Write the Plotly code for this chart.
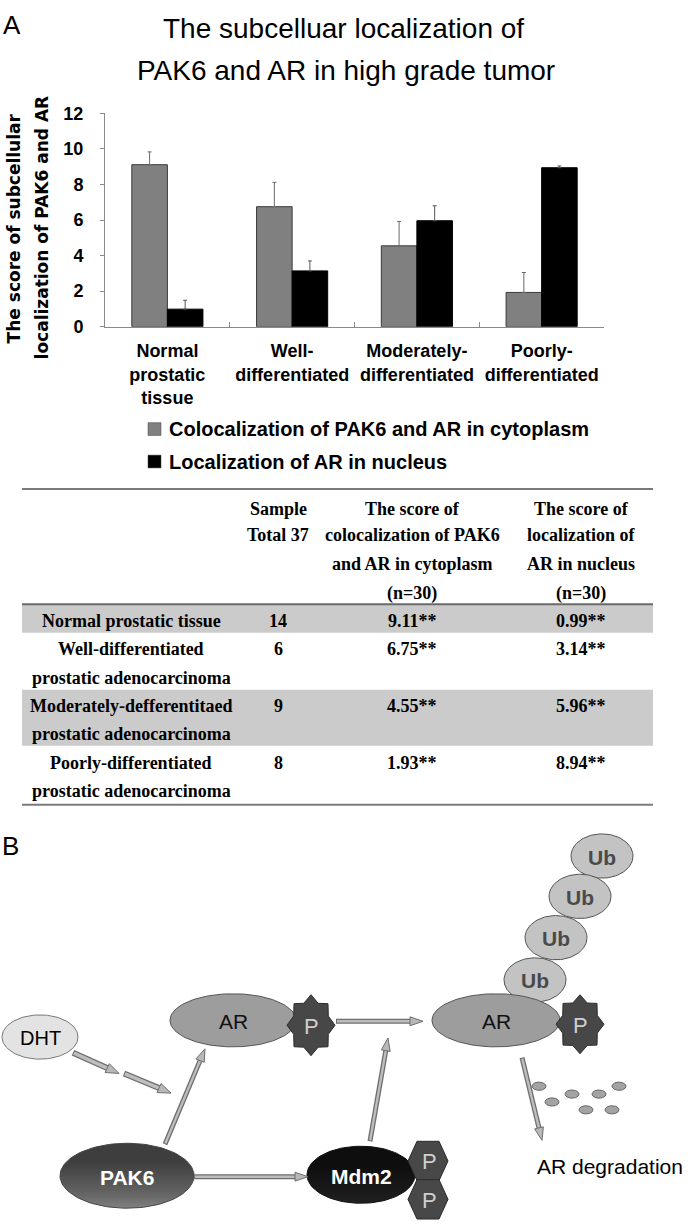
import numpy as np
import plotly.graph_objects as go

W, H = 693, 1230

# ---------------- data ----------------
categories = ["Normal<br>prostatic<br>tissue", "Well-<br>differentiated",
              "Moderately-<br>differentiated", "Poorly-<br>differentiated"]
cyto_scores = [9.11, 6.75, 4.55, 1.93]
nucleus_scores = [0.99, 3.14, 5.96, 8.94]
cyto_err = [0.72, 1.37, 1.37, 1.12]
nucleus_err = [0.50, 0.56, 0.84, 0.10]
y_ticks = [0, 2, 4, 6, 8, 10, 12]
series_names = ["Colocalization of PAK6 and AR in cytoplasm", "Localization of AR in nucleus"]

table_col_headers = [
    ["Sample", "Total 37"],
    ["The score of", "colocalization of PAK6", "and AR in cytoplasm", "(n=30)"],
    ["The score of", "localization of", "AR in nucleus", "(n=30)"],
]
table_groups = [["Normal prostatic tissue"],
                ["Well-differentiated", "prostatic adenocarcinoma"],
                ["Moderately-defferentitaed", "prostatic adenocarcinoma"],
                ["Poorly-differentiated", "prostatic adenocarcinoma"]]
table_samples = ["14", "6", "9", "8"]
table_cyto = ["9.11**", "6.75**", "4.55**", "1.93**"]
table_nucleus = ["0.99**", "3.14**", "5.96**", "8.94**"]

SANS = "Liberation Sans, Arial, sans-serif"
SERIF = "Liberation Serif, Times New Roman, serif"

fig = go.Figure()

# ---------------- bar chart ----------------
fig.add_trace(go.Bar(
    x=categories, y=cyto_scores, name=series_names[0],
    marker=dict(color="#808080", line=dict(color="#3a3a3a", width=1)),
    error_y=dict(type="data", symmetric=False, array=cyto_err, arrayminus=[0] * 4,
                 color="#6a6a6a", thickness=1, width=2),
    showlegend=False, hoverinfo="skip"))
fig.add_trace(go.Bar(
    x=categories, y=nucleus_scores, name=series_names[1],
    marker=dict(color="#000000", line=dict(color="#000000", width=1)),
    error_y=dict(type="data", symmetric=False, array=nucleus_err, arrayminus=[0] * 4,
                 color="#555555", thickness=1, width=2),
    showlegend=False, hoverinfo="skip"))

shapes = []
annotations = []


def px_shape(**kw):
    kw.setdefault("xref", "x2")
    kw.setdefault("yref", "y2")
    shapes.append(kw)


def text(x, y, s, size, color="#000", family=SANS, weight="normal", xanchor="center",
         yanchor="middle", angle=0):
    annotations.append(dict(x=x, y=y, xref="x2", yref="y2", text=s, showarrow=False,
                            xanchor=xanchor, yanchor=yanchor, textangle=angle,
                            font=dict(size=size, color=color, family=family, weight=weight)))


# titles
text(1, 15, "A", 26, xanchor="left")
text(343, 19, "The subcelluar localization of", 28)
text(346, 61, "PAK6 and AR in high grade tumor", 28)
# y-axis title (two lines)
text(14, 222, "The score of subcellular", 17, family="DejaVu Sans", weight="bold", angle=-90)
text(42, 221, "localization of PAK6 and AR", 17, family="DejaVu Sans", weight="bold", angle=-90)

# legend
leg_colors = ["#808080", "#000000"]
leg_y = [426, 459]
for name, col, yy in zip(series_names, leg_colors, leg_y):
    px_shape(type="rect", x0=148, x1=161, y0=yy - 6.5, y1=yy + 6.5,
             fillcolor=col, line=dict(color="#444", width=0.5))
    text(167, yy, name, 20, weight="bold", xanchor="left")

# ---------------- table ----------------
TL, TR = 22, 653
px_shape(type="rect", x0=TL, x1=TR, y0=604, y1=633, fillcolor="#cbcbcb", line=dict(width=0), layer="below")
px_shape(type="rect", x0=TL, x1=TR, y0=691, y1=748, fillcolor="#cbcbcb", line=dict(width=0), layer="below")
px_shape(type="line", x0=TL, x1=TR, y0=487, y1=487, line=dict(color="#7a7a7a", width=2))
px_shape(type="line", x0=TL, x1=TR, y0=604, y1=604, line=dict(color="#6a6a6a", width=2))
px_shape(type="line", x0=TL, x1=TR, y0=808, y1=808, line=dict(color="#7a7a7a", width=2))

col_x = [131, 278, 412, 581]
head_y = [507, 534, 563, 593]
for cx, lines in zip(col_x[1:], table_col_headers):
    for i, ln in enumerate(lines):
        text(cx, head_y[i], ln, 18, family=SERIF, weight="bold")

row_y = [621, 650, 707, 765]
for i in range(4):
    for j, ln in enumerate(table_groups[i]):
        text(col_x[0], row_y[i] + j * 29, ln, 18, family=SERIF, weight="bold")
    text(col_x[1], row_y[i], table_samples[i], 18, family=SERIF, weight="bold")
    text(col_x[2], row_y[i], table_cyto[i], 18, family=SERIF, weight="bold")
    text(col_x[3], row_y[i], table_nucleus[i], 18, family=SERIF, weight="bold")

# ---------------- diagram B ----------------
text(0, 850, "B", 26, xanchor="left")


def ellipse(cx, cy, rx, ry, fill, edge="#555", grad=None, width=1):
    t = np.linspace(0, 2 * np.pi, 120)
    tr = dict(x=cx + rx * np.cos(t), y=cy + ry * np.sin(t), xaxis="x2", yaxis="y2",
              mode="lines", fill="toself", fillcolor=fill, line=dict(color=edge, width=width),
              hoverinfo="skip", showlegend=False)
    if grad is not None:
        tr["fillgradient"] = dict(type="vertical", colorscale=grad, start=cy - ry, stop=cy + ry)
    fig.add_trace(go.Scatter(**tr))


def arrow(x0, y0, x1, y1, w=5, hl=13, hw=4.5):
    dx, dy = x1 - x0, y1 - y0
    L = np.hypot(dx, dy)
    ux, uy = dx / L, dy / L
    pxv, pyv = -uy, ux
    bx, by = x1 - ux * hl, y1 - uy * hl
    px_shape(type="line", x0=x0, y0=y0, x1=bx, y1=by, line=dict(color="#6e6e6e", width=w))
    px_shape(type="line", x0=x0 + ux, y0=y0 + uy, x1=bx, y1=by, line=dict(color="#bdbdbd", width=w - 2.6))
    path = (f"M{x1:.1f},{y1:.1f} L{bx + pxv * hw:.1f},{by + pyv * hw:.1f} "
            f"L{bx - pxv * hw:.1f},{by - pyv * hw:.1f} Z")
    px_shape(type="path", path=path, fillcolor="#b8b8b8", line=dict(color="#6e6e6e", width=1))


def star(cx, cy, rx, ry, inner=0.78):
    pts = []
    for k in range(16):
        a = -np.pi / 2 + k * np.pi / 8
        r = 1.0 if k % 2 == 0 else inner
        pts.append((cx + rx * r * np.cos(a), cy + ry * r * np.sin(a)))
    path = "M" + " L".join(f"{x:.1f},{y:.1f}" for x, y in pts) + " Z"
    px_shape(type="path", path=path, fillcolor="#474747", line=dict(color="#2e2e2e", width=1))
    text(cx, cy + 1, "P", 22, color="#cfcfcf")


def hexagon(cx, cy, hw=20, hh=20, tw=11):
    pts = [(-hw, 0), (-tw, -hh), (tw, -hh), (hw, 0), (tw, hh), (-tw, hh)]
    path = "M" + " L".join(f"{cx + x:.1f},{cy + y:.1f}" for x, y in pts) + " Z"
    px_shape(type="path", path=path, fillcolor="#484848", line=dict(color="#2a2a2a", width=1))
    text(cx + 1, cy + 1, "P", 22, color="#cfcfcf")


# ubiquitin chain
ub_centers = [(602, 860), (580, 901), (556, 943), (535, 986)]
for (ux_, uy_) in ub_centers:
    ellipse(ux_, uy_, 31, 22.5, "#c3c3c3", edge="#555")

# nodes
ellipse(40, 1044, 38, 22.5, "#e3e3e3", edge="#777")
ellipse(233, 1027, 63, 27, "#9d9d9d", edge="#555")
ellipse(496, 1027, 64, 27, "#9d9d9d", edge="#555")
ellipse(127, 1185, 67, 33, "#777", edge="#444",
        grad=[[0, "#3e3e3e"], [0.5, "#666666"], [1, "#a8a8a8"]])
ellipse(361, 1184, 54, 29, "#1c1c1c", edge="#111",
        grad=[[0, "#0e0e0e"], [0.6, "#1e1e1e"], [1, "#3a3a3a"]])

# degradation fragments
frag = [(539, 1094), (552, 1110), (572, 1102), (599, 1102), (619, 1094), (586, 1118), (612, 1118)]
for fx, fy in frag:
    ellipse(fx, fy, 7, 4.2, "#a3a3a3", edge="#666")

# arrows
arrow(73, 1060, 119, 1081, w=6, hl=13, hw=5)
arrow(124, 1081, 171, 1101, w=6, hl=13, hw=5)
arrow(165, 1153, 205, 1056)
arrow(370, 1150, 388, 1045)
arrow(336, 1028, 423, 1028)
arrow(194, 1186, 308, 1186)
arrow(522, 1065, 542, 1149)

# phosphate groups
star(311, 1032, 24, 31)
star(580, 1031, 24, 30)
hexagon(428, 1170)
hexagon(428, 1209)

# labels
for (ux_, uy_) in ub_centers:
    text(ux_, uy_ + 1, "Ub", 21, color="#4a4a4a", weight="bold")
text(40, 1045, "DHT", 20)
text(233, 1028, "AR", 21, color="#111")
text(496, 1028, "AR", 21, color="#111")
text(127, 1187, "PAK6", 21, color="#ffffff", weight="bold")
text(361, 1186, "Mdm2", 21, color="#ffffff", weight="bold")
text(535, 1176, "AR degradation", 21, xanchor="left")

# ---------------- layout ----------------
fig.update_layout(
    width=W, height=H, margin=dict(l=0, r=0, t=0, b=0),
    paper_bgcolor="white", plot_bgcolor="rgba(0,0,0,0)",
    barmode="group", bargap=0.43, bargroupgap=0,
    shapes=shapes, annotations=annotations,
    xaxis=dict(domain=[105 / W, 604 / W], anchor="y", showline=True, linecolor="#8a8a8a",
               linewidth=1, ticks="inside", ticklen=5, tickcolor="#8a8a8a", tickson="boundaries",
               showgrid=False, zeroline=False, ticklabelstandoff=8,
               tickfont=dict(family=SANS, size=18, color="#000", weight="bold")),
    yaxis=dict(domain=[1 - 322 / H, 1 - 105 / H], anchor="x", range=[0, 12], tickvals=y_ticks,
               showline=True, linecolor="#8a8a8a", linewidth=1, ticks="outside", ticklen=4,
               tickcolor="#8a8a8a", showgrid=False, zeroline=False, ticklabelstandoff=13,
               tickfont=dict(family=SANS, size=18, color="#000", weight="bold")),
    xaxis2=dict(domain=[0, 1], anchor="y2", range=[0, W], visible=False, fixedrange=True),
    yaxis2=dict(domain=[0, 1], anchor="x2", range=[H, 0], visible=False, fixedrange=True),
)

fig.write_html("out.html", config={"displayModeBar": False},
               post_script="document.body.style.margin='0';document.body.style.overflow='hidden';")
